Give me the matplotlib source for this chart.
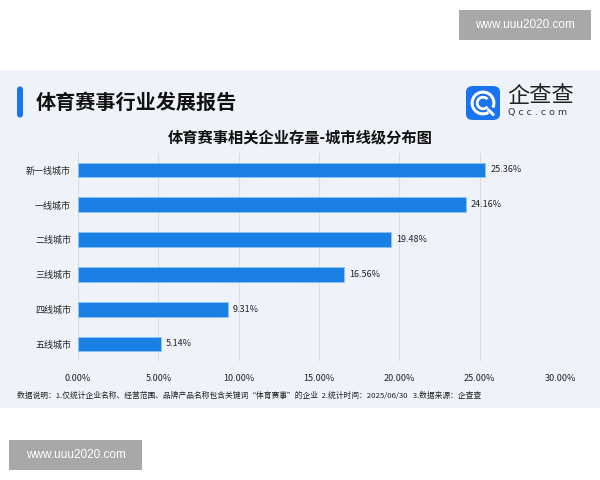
import numpy as np
import matplotlib.pyplot as plt
from matplotlib.patches import Rectangle, FancyBboxPatch, Arc

plt.rcParams['font.family'] = ['Noto Sans CJK SC', 'DejaVu Sans']

categories = ['新一线城市', '一线城市', '二线城市', '三线城市', '四线城市', '五线城市']
shares = [25.36, 24.16, 19.48, 16.56, 9.31, 5.14]
xticks = [0, 5, 10, 15, 20, 25, 30]

heading = '体育赛事行业发展报告'
title = '体育赛事相关企业存量-城市线级分布图'
note = ('数据说明：1.仅统计企业名称、经营范围、品牌产品名称包含关键词“体育赛事”的企业  '
        '2.统计时间：2025/06/30   3.数据来源：企查查')
watermark = 'www.uuu2020.com'

W, H = 600, 480
fig = plt.figure(figsize=(6, 4.8), dpi=100)
fig.patch.set_facecolor('white')


def fx(px):
    return px / W


def fy(py):
    return 1 - py / H


# light panel behind the chart
panel = Rectangle((0, fy(408)), 1, fy(70) - fy(408), transform=fig.transFigure,
                  facecolor='#eff3f9', edgecolor='none', zorder=-5)
fig.patches.append(panel)

# heading with blue accent bar
accent = FancyBboxPatch((fx(17), fy(118)), fx(6), fy(86) - fy(118),
                        boxstyle='round,pad=0,rounding_size=0.008',
                        transform=fig.transFigure, facecolor='#1677e8',
                        edgecolor='none', zorder=2)
fig.patches.append(accent)
fig.text(fx(36), fy(102), heading, fontsize=14.5, fontweight='bold',
         color='#111111', va='center', ha='left')

# logo
logo = FancyBboxPatch((fx(466), fy(120)), fx(34), fy(86) - fy(120),
                      boxstyle='round,pad=0,rounding_size=0.012',
                      transform=fig.transFigure, facecolor='#1a73f0',
                      edgecolor='none', zorder=2)
fig.patches.append(logo)
lax = fig.add_axes([fx(466), fy(120), fx(34), fy(86) - fy(120)], zorder=4)
lax.set_xlim(0, 1)
lax.set_ylim(0, 1)
lax.set_aspect('equal', adjustable='datalim')
lax.axis('off')
lax.add_patch(Arc((0.5, 0.5), 0.64, 0.64, theta1=-25, theta2=300, lw=2.2, color='white'))
lax.add_patch(Arc((0.5, 0.5), 0.34, 0.34, theta1=40, theta2=320, lw=2.0, color='white'))
lax.plot([0.66, 0.80], [0.30, 0.16], color='white', lw=2.2, solid_capstyle='round')
fig.text(fx(507), fy(96), '企查查', fontsize=16, color='#222222', va='center', ha='left')
fig.text(fx(508), fy(113), 'Q c c . c o m', fontsize=6.8, color='#333333',
         va='center', ha='left', family='DejaVu Sans')

fig.text(0.5, fy(137), title, fontsize=11, fontweight='bold', color='#111111',
         ha='center', va='center')

# chart
ax = fig.add_axes([fx(78), fy(361.4), fx(560) - fx(78), fy(152.6) - fy(361.4)])
ax.set_facecolor('none')
y = np.arange(len(categories))
ax.barh(y, shares, height=0.42, color='#1a80e3', edgecolor='#8cc4f5', linewidth=0.6,
        zorder=3)
for yi, v in zip(y, shares):
    ax.text(v + 0.3, yi, f'{v:.2f}%', va='center', ha='left', fontsize=6.5,
            color='#222222')
ax.set_ylim(len(categories) - 0.5, -0.5)
ax.set_xlim(0, 30)
ax.set_yticks(y)
ax.set_yticklabels(categories, fontsize=6.5, color='#222222')
ax.set_xticks(xticks)
ax.set_xticklabels([f'{t:.2f}%' for t in xticks], fontsize=6.5, color='#222222')
ax.tick_params(axis='both', length=0)
ax.tick_params(axis='y', pad=5)
ax.tick_params(axis='x', pad=9)
ax.grid(axis='x', color='#d8dde6', linewidth=0.8, zorder=0)
for s in ax.spines.values():
    s.set_visible(False)

fig.text(fx(17), fy(396), note, fontsize=5.6, color='#222222', ha='left', va='center')

# watermarks
for (x0, y0, x1, y1) in [(459, 10, 591, 40), (9, 440, 142, 470)]:
    r = Rectangle((fx(x0), fy(y1)), fx(x1 - x0), fy(y0) - fy(y1),
                  transform=fig.transFigure, facecolor='#a8a8a8', edgecolor='none',
                  zorder=5)
    fig.patches.append(r)
    fig.text(fx((x0 + x1) / 2), fy((y0 + y1) / 2), watermark, fontsize=8.5,
             color='white', ha='center', va='center', family='Liberation Sans',
             zorder=6)

fig.savefig('out.png', dpi=100)
